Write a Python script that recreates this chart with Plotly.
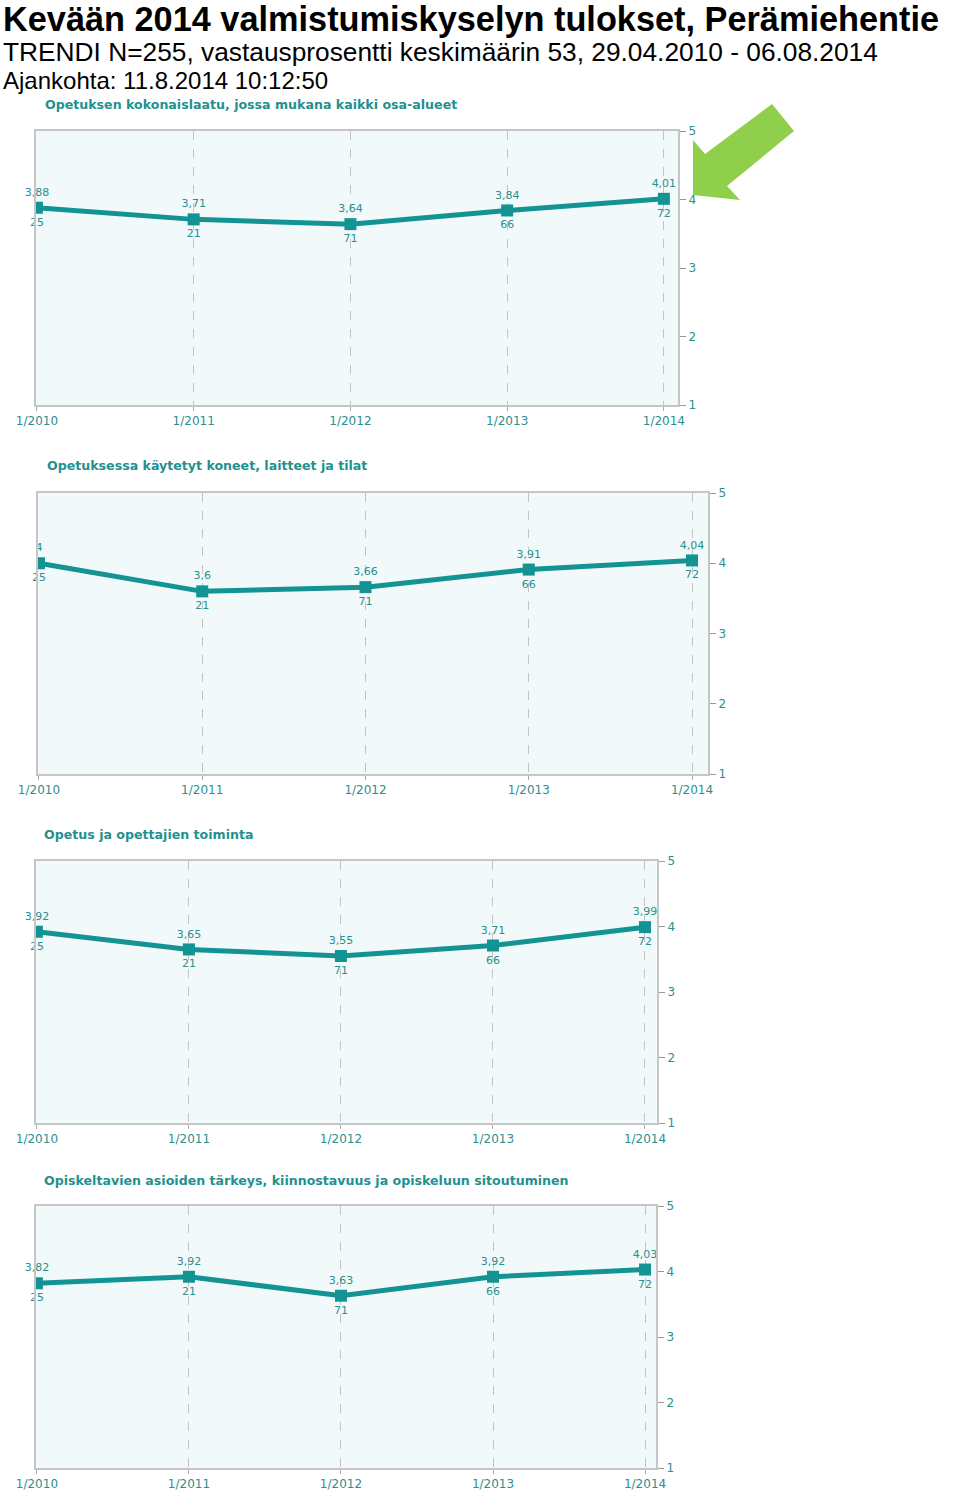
import plotly.graph_objects as go

W, H = 960, 1495

periods = ["1/2010", "1/2011", "1/2012", "1/2013", "1/2014"]
n_resp = [25, 21, 71, 66, 72]

titles = [
    "Opetuksen kokonaislaatu, jossa mukana kaikki osa-alueet",
    "Opetuksessa käytetyt koneet, laitteet ja tilat",
    "Opetus ja opettajien toiminta",
    "Opiskeltavien asioiden tärkeys, kiinnostavuus ja opiskeluun sitoutuminen",
]
vals_1 = [3.88, 3.71, 3.64, 3.84, 4.01]
vals_2 = [4.0, 3.6, 3.66, 3.91, 4.04]
vals_3 = [3.92, 3.65, 3.55, 3.71, 3.99]
vals_4 = [3.82, 3.92, 3.63, 3.92, 4.03]
series = [vals_1, vals_2, vals_3, vals_4]
y_ticks = [1, 2, 3, 4, 5]

# layout geometry (pixels): left, right, top, bottom, x-range right pad, title x, title y
panels = [
    dict(l=36, r=678, t=131, b=405, xr=4.09, tx=43, ty=104),
    dict(l=38, r=708, t=493, b=774, xr=4.098, tx=45, ty=465),
    dict(l=36, r=657, t=861, b=1123, xr=4.079, tx=42, ty=835),
    dict(l=36, r=656, t=1206, b=1468, xr=4.072, tx=42, ty=1180),
]

LINE = "#139393"
TEXT = "#2a8f8f"
TITLE = "#1f9190"
BORDER = "#c6c6c6"


def fmt(v):
    return f"{v:g}".replace(".", ",")


def px(x):
    return x / W


def py(y):
    return 1 - y / H


fig = go.Figure()
xs = list(range(len(periods)))
layout = {}
annotations = []
for i, (vals, p, title) in enumerate(zip(series, panels, titles)):
    s = "" if i == 0 else str(i + 1)
    xa, ya = "x" + s, "y" + s
    fig.add_trace(go.Scatter(
        x=xs, y=vals, mode="lines+markers", xaxis=xa, yaxis=ya,
        line=dict(color=LINE, width=5),
        marker=dict(symbol="square", size=12, color=LINE),
        cliponaxis=True, showlegend=False, hoverinfo="skip"))
    fig.add_trace(go.Scatter(
        x=xs, y=vals, mode="markers+text", xaxis=xa, yaxis=ya,
        marker=dict(size=13, opacity=0),
        text=[fmt(v) for v in vals], textposition="top center",
        textfont=dict(family="DejaVu Sans", size=11, color=TEXT),
        cliponaxis=False, showlegend=False, hoverinfo="skip"))
    fig.add_trace(go.Scatter(
        x=xs, y=vals, mode="markers+text", xaxis=xa, yaxis=ya,
        marker=dict(size=14, opacity=0),
        text=[str(n) for n in n_resp], textposition="bottom center",
        textfont=dict(family="DejaVu Sans", size=11, color=TEXT),
        cliponaxis=False, showlegend=False, hoverinfo="skip"))
    layout["xaxis" + s] = dict(
        domain=[px(p["l"]), px(p["r"])], anchor=ya, range=[-0.006, p["xr"]],
        tickvals=xs, ticktext=periods, showgrid=True, gridcolor="#c4c4c4",
        griddash="dash", gridwidth=1, zeroline=False, showline=True,
        linecolor=BORDER, linewidth=2, mirror=True, ticks="outside",
        ticklen=4, tickcolor="#aaaaaa", automargin=False,
        tickfont=dict(family="DejaVu Sans", size=12, color=TEXT))
    layout["yaxis" + s] = dict(
        domain=[py(p["b"]), py(p["t"])], anchor=xa, range=[1, 5], side="right",
        tickvals=y_ticks, ticktext=[str(t) for t in y_ticks], showgrid=False,
        zeroline=False, showline=True, linecolor=BORDER, linewidth=2,
        mirror=True, ticks="outside", ticklen=6, tickcolor="#999999",
        automargin=False,
        tickfont=dict(family="DejaVu Sans", size=12, color=TEXT))
    annotations.append(dict(
        text=f"<b>{title}</b>", x=px(p["tx"]), y=py(p["ty"]), xref="paper",
        yref="paper", xanchor="left", yanchor="middle", showarrow=False,
        font=dict(family="DejaVu Sans", size=12.6, color=TITLE)))

annotations += [
    dict(text="<b>Kevään 2014 valmistumiskyselyn tulokset, Perämiehentie</b>",
         x=px(1), y=py(19), xref="paper", yref="paper", xanchor="left",
         yanchor="middle", showarrow=False,
         font=dict(family="Liberation Sans", size=34.3, color="#000000")),
    dict(text="TRENDI N=255, vastausprosentti keskimäärin 53, 29.04.2010 - 06.08.2014",
         x=px(1), y=py(52), xref="paper", yref="paper", xanchor="left",
         yanchor="middle", showarrow=False,
         font=dict(family="Liberation Sans", size=26.3, color="#000000")),
    dict(text="Ajankohta: 11.8.2014 10:12:50",
         x=px(1), y=py(81), xref="paper", yref="paper", xanchor="left",
         yanchor="middle", showarrow=False,
         font=dict(family="Liberation Sans", size=24, color="#000000")),
]

arrow_pts = [(693, 195), (693, 140), (705, 154), (772, 104), (794, 131),
             (727, 186), (740, 200)]
path = "M " + " L ".join(f"{px(x):.5f},{py(y):.5f}" for x, y in arrow_pts) + " Z"

fig.update_layout(
    width=W, height=H,
    margin=dict(l=0, r=0, t=0, b=0, pad=0, autoexpand=False),
    paper_bgcolor="#ffffff", plot_bgcolor="#f2f9fa",
    annotations=annotations,
    shapes=[dict(type="path", path=path, xref="paper", yref="paper",
                 fillcolor="#8fcf4c", line=dict(width=0))],
    **layout)

fig.write_html("out.html")
